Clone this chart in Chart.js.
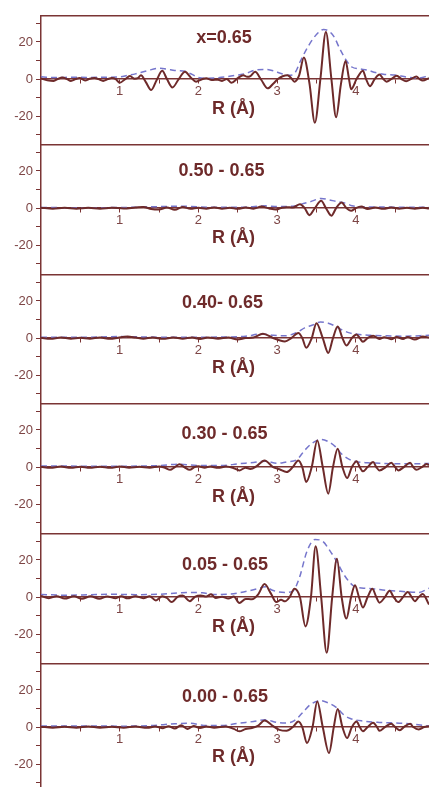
<!DOCTYPE html>
<html><head><meta charset="utf-8">
<script src="https://cdn.jsdelivr.net/npm/chart.js@4/dist/chart.umd.min.js"></script>
<style>
html,body{margin:0;padding:0;background:#fff;overflow:hidden;width:429px;height:787px}
canvas{position:absolute;left:0}
</style></head><body>
<script>
// ---------- DATA (R in Å, FT amplitude) ----------
const panelTitles = ['x=0.65', '0.50 - 0.65', '0.40- 0.65', '0.30 - 0.65', '0.05 - 0.65', '0.00 - 0.65'];
const axisTitle = 'R (Å)';
const xTickValues = [0.5, 1, 1.5, 2, 2.5, 3, 3.5, 4, 4.5];
const yTickValues = [-30, -20, -10, 0, 10, 20, 30];

// solid curves (real part) as [R, value]
const p1Solid = [[0,0.3],[0.08,-0.6],[0.16,-1.0],[0.22,0.2],[0.27,0.8],[0.33,0],[0.38,-1.0],[0.44,0],[0.49,0.6],[0.56,-0.8],[0.62,0.2],[0.68,0.6],[0.73,0],[0.79,-1.0],[0.85,0],[0.9,0.6],[0.95,0],[1.0,-2.0],[1.07,0],[1.13,1.6],[1.19,0.2],[1.23,0.5],[1.27,2.0],[1.33,-1.5],[1.40,-5.9],[1.47,-0.5],[1.54,4.5],[1.60,0],[1.67,-4.5],[1.75,0],[1.83,3.9],[1.90,1],[1.97,-1.4],[2.04,-0.2],[2.1,0.5],[2.17,-0.5],[2.25,-0.3],[2.3,-1],[2.36,0],[2.42,-2.0],[2.5,0.5],[2.57,2.1],[2.62,1.2],[2.66,1.6],[2.72,3.9],[2.8,-0.5],[2.88,-5.0],[2.95,-2.5],[3.01,0],[3.07,1.5],[3.13,2.1],[3.18,0.5],[3.22,-1.4],[3.28,2],[3.34,11.6],[3.41,-2],[3.48,-23.5],[3.55,0],[3.62,25.4],[3.69,0],[3.75,-20.6],[3.81,-3],[3.87,9.7],[3.91,1],[3.94,-5.5],[4.01,0],[4.09,4.5],[4.13,0],[4.18,-3.8],[4.24,0],[4.30,2.5],[4.35,0],[4.39,-1.4],[4.45,0],[4.52,1.8],[4.58,0],[4.64,-1.2],[4.7,0],[4.77,1.4],[4.81,0],[4.85,-0.8],[4.93,0.5]];
const p2Solid = [[0,0.2],[0.15,-0.3],[0.3,0.2],[0.45,-0.3],[0.6,0.2],[0.75,-0.3],[0.9,0.2],[1.05,-0.2],[1.2,0.3],[1.3,0.6],[1.4,-0.5],[1.5,-0.8],[1.6,0.3],[1.7,-0.9],[1.8,0.6],[1.9,-0.4],[2.0,0.2],[2.1,-0.3],[2.2,0.3],[2.3,-0.3],[2.4,0.2],[2.5,-0.4],[2.6,0.3],[2.7,-0.3],[2.8,0.8],[2.9,-0.2],[2.98,-0.8],[3.05,0],[3.12,0.5],[3.2,0.3],[3.29,2.1],[3.35,0],[3.41,-3.8],[3.48,0],[3.56,3.9],[3.62,0],[3.69,-4.1],[3.75,0],[3.82,3.0],[3.88,0],[3.94,-1.5],[4.0,0],[4.07,0.8],[4.15,-0.5],[4.25,0.3],[4.35,-0.4],[4.45,0.3],[4.55,-0.3],[4.65,0.2],[4.75,-0.3],[4.85,0.2],[4.93,-0.2]];
const p3Solid = [[0,0.2],[0.12,-0.4],[0.25,0.3],[0.38,-0.3],[0.5,0.2],[0.62,-0.3],[0.75,0.3],[0.88,-0.4],[0.98,0.2],[1.1,0.8],[1.2,0.3],[1.3,-0.3],[1.42,0.3],[1.55,-0.4],[1.68,0.3],[1.8,-0.3],[1.92,0.3],[2.02,-0.5],[2.12,0.3],[2.25,-0.3],[2.38,0.3],[2.5,-0.8],[2.6,0],[2.7,0.3],[2.82,2.3],[2.95,0],[3.03,-1.2],[3.10,-1.8],[3.18,0],[3.27,2.7],[3.32,0],[3.37,-5.2],[3.44,0],[3.50,8.0],[3.58,0],[3.65,-8.0],[3.71,0],[3.77,6.2],[3.83,0],[3.88,-4],[3.95,0],[4.01,1.9],[4.05,0],[4.09,-2],[4.15,0],[4.22,1.3],[4.3,-0.5],[4.36,0.5],[4.45,-0.6],[4.52,0.6],[4.6,-0.5],[4.66,0.6],[4.75,-0.8],[4.85,0.8],[4.93,0.3]];
const p4Solid = [[0,0.2],[0.12,-0.4],[0.25,0.3],[0.38,-0.4],[0.5,0.2],[0.62,-0.4],[0.75,0.2],[0.88,-0.4],[1.0,0.3],[1.12,-0.3],[1.25,0.2],[1.38,-0.3],[1.5,0.3],[1.58,-0.5],[1.64,-1.5],[1.7,0],[1.76,1.5],[1.82,0],[1.89,-1.5],[1.95,0],[2.0,0.4],[2.08,-0.3],[2.15,0.3],[2.25,-0.4],[2.35,0.3],[2.45,-0.6],[2.52,-1.8],[2.6,-0.3],[2.66,-1.0],[2.74,0.5],[2.84,3.6],[2.95,0],[3.03,-1.2],[3.12,-2.7],[3.2,0],[3.27,3.6],[3.32,0],[3.37,-8],[3.44,0],[3.51,14.3],[3.58,0],[3.65,-14.3],[3.71,0],[3.77,9.9],[3.83,0],[3.89,-5.9],[3.95,0],[4.01,3.2],[4.05,0],[4.09,-2.3],[4.15,0],[4.22,2.7],[4.26,0],[4.30,-1.8],[4.38,0],[4.45,2.3],[4.5,0],[4.54,-1.8],[4.61,0],[4.69,2.3],[4.73,0],[4.77,-1.5],[4.84,0],[4.90,1.7],[4.93,1]];
const p5Solid = [[0,0.6],[0.1,-0.6],[0.2,0.5],[0.3,-0.8],[0.42,0.4],[0.52,-0.9],[0.63,0.4],[0.74,-0.9],[0.84,0.3],[0.95,-0.6],[1.02,0.5],[1.1,-0.7],[1.2,0.5],[1.3,-0.6],[1.38,0.4],[1.46,-1.8],[1.54,0.5],[1.6,-0.5],[1.66,-2.7],[1.74,0.3],[1.8,0.8],[1.89,-2.2],[1.96,0.3],[2.03,0.9],[2.1,0.3],[2.16,1.5],[2.22,-0.5],[2.3,0.2],[2.38,-0.8],[2.45,0.3],[2.52,-3.2],[2.6,-1],[2.68,-1.2],[2.76,1.5],[2.84,7],[2.92,2],[2.99,-2.7],[3.05,-1.5],[3.1,-2.3],[3.16,0],[3.22,4.5],[3.29,0],[3.36,-15.8],[3.43,0],[3.49,27.3],[3.56,0],[3.63,-30],[3.7,0],[3.76,20.6],[3.82,0],[3.88,-11.6],[3.94,0],[3.99,6.3],[4.04,0],[4.09,-5.6],[4.15,0],[4.21,4.5],[4.26,0],[4.30,-3],[4.37,0],[4.43,3.4],[4.48,0],[4.54,-2.7],[4.6,0],[4.66,2.7],[4.71,0],[4.75,-2.2],[4.8,0],[4.85,1.6],[4.93,-4]];
const p6Solid = [[0,0.2],[0.15,-0.3],[0.3,0.2],[0.45,-0.3],[0.6,0.3],[0.75,-0.3],[0.9,0.2],[1.05,-0.3],[1.2,0.3],[1.35,-0.4],[1.45,0.3],[1.55,-0.6],[1.62,0.5],[1.7,-0.8],[1.78,1.0],[1.86,-1.0],[1.94,0.6],[2.02,-0.5],[2.1,0.3],[2.2,-0.3],[2.35,0.3],[2.45,-1],[2.52,-2.3],[2.6,-1],[2.68,-0.5],[2.76,0.8],[2.84,3.5],[2.95,0.5],[3.03,-1.5],[3.12,-2.0],[3.2,0],[3.27,3.0],[3.32,0],[3.38,-8.6],[3.45,0],[3.51,13.8],[3.58,0],[3.66,-14],[3.72,0],[3.77,9.7],[3.83,0],[3.89,-5.9],[3.95,0],[4.01,3.0],[4.05,0],[4.09,-2.3],[4.15,0],[4.22,2.3],[4.27,0],[4.30,-2],[4.37,0],[4.45,1.8],[4.5,0],[4.56,-1.7],[4.61,0],[4.69,1.8],[4.73,0],[4.8,-1.3],[4.87,0],[4.93,0.5]];

// dashed curves (magnitude) as [R, value]
const p1Mag = [[0,1.2],[0.2,0.8],[0.4,1.0],[0.6,0.9],[0.8,1.0],[1.0,1.2],[1.1,2.0],[1.2,2.8],[1.35,4.5],[1.5,5.8],[1.6,5.4],[1.7,4.6],[1.83,4.2],[1.92,2.5],[2.0,0.8],[2.1,0.5],[2.2,0.6],[2.35,1.2],[2.5,2.2],[2.6,3.0],[2.72,4.8],[2.85,5.2],[2.95,4.5],[3.05,3.0],[3.15,2.0],[3.22,3],[3.3,10],[3.4,18],[3.5,24],[3.59,26.7],[3.65,26],[3.72,23],[3.8,16],[3.88,10],[3.95,6.5],[4.05,5.5],[4.15,4.8],[4.25,3.5],[4.35,2.6],[4.5,2.2],[4.65,1.0],[4.8,0.6],[4.93,1.8]];
const p2Mag = [[0,0.3],[0.5,0.2],[1,0.3],[1.5,0.8],[1.8,1],[2.2,0.4],[2.6,0.5],[2.85,1.2],[3.0,0.8],[3.2,1.0],[3.3,2],[3.42,3.4],[3.56,5.2],[3.68,4.2],[3.78,3.4],[3.88,2.5],[3.95,1.2],[4.1,0.7],[4.5,0.5],[4.93,0.4]];
const p3Mag = [[0,0.5],[0.5,0.4],[1.0,0.8],[1.5,0.5],[2.0,0.5],[2.4,0.6],[2.6,1.0],[2.8,2.2],[2.95,1.5],[3.1,1.2],[3.25,3.0],[3.35,5.5],[3.45,7.0],[3.55,8.6],[3.65,8.0],[3.72,6.8],[3.82,4.5],[3.92,2.8],[4.02,2.0],[4.2,1.5],[4.4,1.2],[4.6,1.0],[4.93,1.5]];
const p4Mag = [[0,0.6],[0.5,0.5],[1.0,0.5],[1.5,0.8],[1.75,1.6],[2.0,0.8],[2.3,0.8],[2.5,1.7],[2.7,2.5],[2.85,3.2],[3.0,2.0],[3.12,2.8],[3.25,4.0],[3.35,9],[3.45,13],[3.56,14.9],[3.66,13.5],[3.74,11],[3.82,7],[3.9,4.5],[4.0,3.0],[4.15,2.3],[4.3,2.1],[4.5,1.8],[4.7,1.8],[4.93,1.9]];
const p5Mag = [[0,1.4],[0.3,1.0],[0.6,1.2],[0.9,1.5],[1.2,1.3],[1.5,1.5],[1.75,2.2],[1.9,2.5],[2.05,2.3],[2.2,1.4],[2.4,1.6],[2.6,3],[2.75,4.5],[2.85,5.5],[2.95,3.5],[3.1,2.5],[3.2,3.2],[3.28,10],[3.38,24.7],[3.48,31],[3.58,30],[3.67,25],[3.76,19],[3.85,12],[3.98,5.8],[4.1,4.8],[4.2,4.5],[4.4,3.6],[4.6,3.0],[4.8,2.5],[4.93,4.8]];
const p6Mag = [[0,0.6],[0.5,0.6],[1.0,0.5],[1.4,0.8],[1.7,1.8],[1.9,2.0],[2.1,0.8],[2.3,0.8],[2.5,2.0],[2.7,3.0],[2.85,3.9],[3.0,2.5],[3.1,2.2],[3.22,3.5],[3.33,8],[3.42,12],[3.55,14.2],[3.65,13],[3.76,10.3],[3.85,6.5],[3.93,4.6],[4.1,3.2],[4.3,2.5],[4.6,2.0],[4.93,0.6]];

const solidSeries = [p1Solid, p2Solid, p3Solid, p4Solid, p5Solid, p6Solid];
const magSeries = [p1Mag, p2Mag, p3Mag, p4Mag, p5Mag, p6Mag];

// ---------- LAYOUT / STYLE ----------
const panelTops = [15, 144, 274, 403, 533, 663];
const panelH = 130;
const titlePx = [[224, 23], [221.5, 27], [222.5, 29], [224.5, 31], [225, 32], [225, 34]];
const axisColor = '#7a3434';
const tickColor = '#7d4545';
const lineColor = '#6e2a2a';
const dashColor = '#7676cc';
const FONT = "'Liberation Sans', Arial, sans-serif";

const textPlugin = {
  id: 'panelText',
  afterDraw(chart) {
    const {ctx, chartArea, scales} = chart;
    const i = chart.options.plugins.panelText.index;
    ctx.save();
    ctx.strokeStyle = axisColor;
    ctx.lineWidth = 1.5;
    ctx.beginPath();
    ctx.moveTo(chartArea.left, chartArea.top + 0.75);
    ctx.lineTo(chartArea.right, chartArea.top + 0.75);
    ctx.stroke();
    ctx.fillStyle = lineColor;
    ctx.font = 'bold 18px ' + FONT;
    ctx.textAlign = 'center';
    ctx.textBaseline = 'middle';
    ctx.fillText(panelTitles[i], titlePx[i][0], titlePx[i][1]);
    const y0 = scales.y.getPixelForValue(0);
    ctx.fillText(axisTitle, 233.5, y0 + 30);
    ctx.restore();
  }
};

solidSeries.forEach((s, i) => {
  const cv = document.createElement('canvas');
  cv.width = 429; cv.height = panelH;
  cv.style.top = panelTops[i] + 'px';
  cv.style.width = '429px'; cv.style.height = panelH + 'px';
  document.body.appendChild(cv);
  new Chart(cv, {
    type: 'line',
    data: {
      datasets: [
        {data: s.map(p => ({x: p[0], y: p[1]})), borderColor: lineColor, borderWidth: 2,
         pointRadius: 0, cubicInterpolationMode: 'monotone', fill: false},
        {data: magSeries[i].map(p => ({x: p[0], y: p[1]})), borderColor: dashColor, borderWidth: 1.5,
         borderDash: [6, 4], pointRadius: 0, cubicInterpolationMode: 'monotone', fill: false}
      ]
    },
    options: {
      responsive: false, animation: false, events: [],
      layout: {padding: 0},
      plugins: {legend: {display: false}, tooltip: {enabled: false}, panelText: {index: i}},
      scales: {
        x: {
          type: 'linear', min: 0, max: 4.93, position: {y: 0},
          afterBuildTicks: sc => { sc.ticks = xTickValues.map(v => ({value: v})); },
          afterFit: sc => { sc.paddingLeft = 0; sc.paddingRight = 0; sc.paddingTop = 0; sc.paddingBottom = 0; },
          ticks: {callback: v => Number.isInteger(v) ? String(v) : '', color: tickColor,
                  font: {family: FONT, size: 13}, padding: 1, maxRotation: 0, autoSkip: false},
          grid: {display: true, drawOnChartArea: false, drawTicks: true, tickLength: 4, color: axisColor, lineWidth: 1},
          border: {display: true, color: axisColor, width: 1.5}
        },
        y: {
          min: -35.5, max: 34.5,
          afterFit: sc => { sc.width = 41; sc.paddingTop = 0; sc.paddingBottom = 0; sc.paddingLeft = 0; sc.paddingRight = 0; },
          afterBuildTicks: sc => { sc.ticks = yTickValues.map(v => ({value: v})); },
          ticks: {callback: v => (v % 20 === 0) ? String(v) : '', color: tickColor,
                  font: {family: FONT, size: 13}, padding: 3, autoSkip: false},
          grid: {display: true, drawOnChartArea: false, drawTicks: true, tickLength: 5, color: axisColor, lineWidth: 1},
          border: {display: true, color: axisColor, width: 1.5}
        }
      }
    },
    plugins: [textPlugin]
  });
});
</script>
</body></html>
